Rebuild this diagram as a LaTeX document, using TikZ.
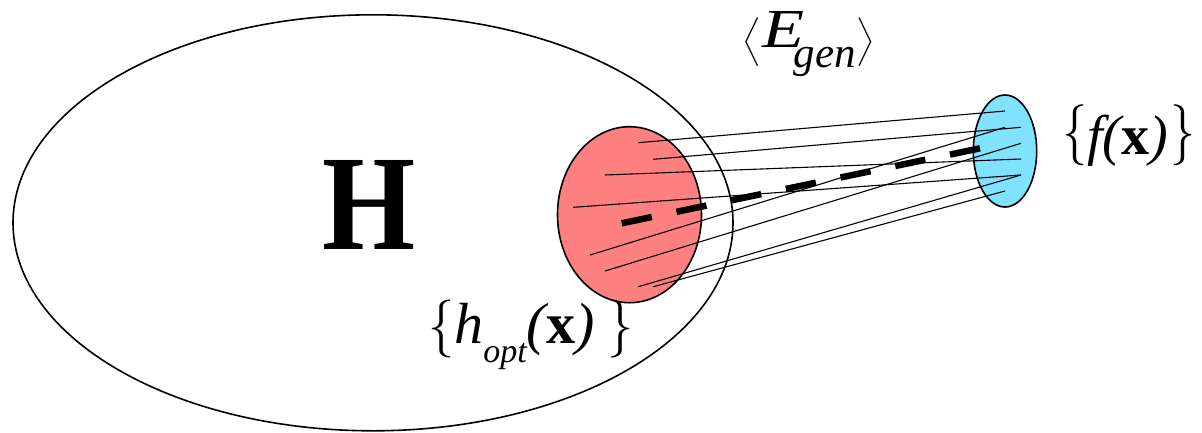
\documentclass[tikz,border=0pt]{standalone}
\usepackage{fontspec}
\newfontfamily\tnr{Liberation Serif}
\newfontfamily\tnri{Liberation Serif Italic}
\newfontfamily\tnrb{Liberation Serif Bold}
\definecolor{redfill}{RGB}{255,128,128}
\definecolor{bluefill}{RGB}{128,226,255}
\newcommand{\angL}{\raisebox{1pt}{\scalebox{2.3}[1.62]{$\Bigg\langle$}}}
\newcommand{\angR}{\raisebox{1pt}{\scalebox{2.3}[1.62]{$\Bigg\rangle$}}}
\newcommand{\brL}[3]{\raisebox{#2}{\scalebox{#3}[1]{\fontsize{#1}{#1}\selectfont\{}}}
\newcommand{\brR}[3]{\raisebox{#2}{\scalebox{#3}[1]{\fontsize{#1}{#1}\selectfont\}}}}
\begin{document}
\begin{tikzpicture}[x=1pt,y=-1pt,
  outline/.style={draw=black,line width=1.6pt},
  ray/.style={draw=black,line width=1.1pt},
  meanline/.style={draw=black,line width=6.5pt,dash pattern=on 30.7pt off 25.2pt},
  lbl/.style={inner sep=0pt,anchor=base west}]
\useasboundingbox (0,0) rectangle (1202,432);
% big hypothesis space
\draw[outline] (373,222.8) ellipse [x radius=360, y radius=208];
\node[inner sep=0pt] (H) at (369.5,205) {\tnrb\fontsize{136}{140}\selectfont\scalebox{0.88}[1]{H}};
% red and blue sets
\draw[outline,fill=redfill] (629.5,214.7) ellipse [x radius=72, y radius=88];
\draw[outline,fill=bluefill] (1005,151) ellipse [x radius=31.7, y radius=56];
% end points
\coordinate (a1) at (638.3,142.7); \coordinate (b1) at (1005,111);
\coordinate (a2) at (653.3,159.3); \coordinate (b2) at (1021,127.3);
\coordinate (a3) at (605,175);     \coordinate (b3) at (1021,159);
\coordinate (a4) at (573.3,207.3); \coordinate (b4) at (1021,175);
\coordinate (a5) at (590,255);     \coordinate (b5) at (1005,127.3);
\coordinate (a6) at (605,271);     \coordinate (b6) at (1021,143.3);
\coordinate (a7) at (638.3,286.7); \coordinate (b7) at (1021,175);
\coordinate (a8) at (653.3,286.7); \coordinate (b8) at (1005,191);
\foreach \i in {1,...,8} {\draw[ray] (a\i) -- (b\i);}
\coordinate (m1) at (621.7,223.3); \coordinate (m2) at (980,148.3);
\draw[meanline] (m1) -- (m2);
% labels
\node[lbl] (Egen) at (742,47) {\angL\kern2pt\scalebox{1.25}[1]{\tnri\fontsize{55}{60}\selectfont E}\kern-11pt\raisebox{-20pt}{\tnri\fontsize{43}{46}\selectfont gen}\kern1pt\angR};
\node[lbl] (fx) at (1062,154) {\brL{61}{4pt}{0.82}{\tnri\fontsize{56}{60}\selectfont f(}{\tnrb\fontsize{56}{60}\selectfont x}{\tnri\fontsize{56}{60}\selectfont )}\kern2pt\brR{61}{4pt}{0.82}};
\node[lbl] (hopt) at (428,343) {\brL{58}{0pt}{0.9}{\tnri\fontsize{58}{60}\selectfont h}\raisebox{-19pt}{\tnri\fontsize{34}{40}\selectfont opt}{\tnri\fontsize{58}{60}\selectfont (}{\tnrb\fontsize{58}{60}\selectfont x}{\tnri\fontsize{58}{60}\selectfont )}\kern13pt\brR{58}{0pt}{0.9}};
\end{tikzpicture}
\end{document}
